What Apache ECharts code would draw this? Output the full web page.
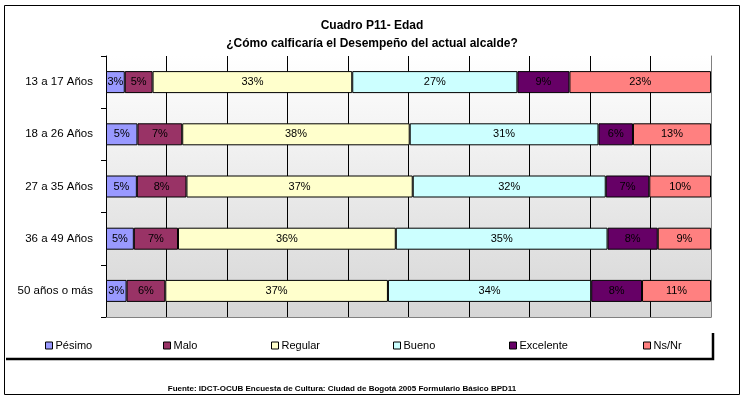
<!DOCTYPE html>
<html>
<head>
<meta charset="utf-8">
<script src="https://cdn.jsdelivr.net/npm/echarts@6/dist/echarts.min.js"></script>
<style>
  html, body { margin: 0; padding: 0; background: #fff; }
  #main { width: 744px; height: 399px; }
</style>
</head>
<body>
<div id="main"></div>
<script>
// categories, top to bottom
var grupos = ['13 a 17 Años', '18 a 26 Años', '27 a 35 Años', '36 a 49 Años', '50 años o más'];
var nombres = ['Pésimo', 'Malo', 'Regular', 'Bueno', 'Excelente', 'Ns/Nr'];
var colores = ['#9999FF', '#993366', '#FFFFCC', '#CCFFFF', '#660066', '#FF8080'];
// percent values per rating (one value per age group)
var pesimo    = [3.1, 5.2, 5.1, 4.6, 3.4];
var malo      = [4.6, 7.4, 8.2, 7.3, 6.4];
var regular   = [33.0, 37.6, 37.4, 36.0, 36.8];
var bueno     = [27.3, 31.2, 31.9, 35.0, 33.6];
var excelente = [8.6, 5.7, 7.2, 8.3, 8.4];
var nsnr      = [23.4, 12.9, 10.2, 8.8, 11.4];
var valores = [pesimo, malo, regular, bueno, excelente, nsnr];
var ticksX = [0, 10, 20, 30, 40, 50, 60, 70, 80, 90, 100];

var fuente = 'Liberation Sans, Arial, sans-serif';
var chart = echarts.init(document.getElementById('main'));

var series = nombres.map(function (n, i) {
    return {
        name: n,
        type: 'bar',
        stack: 'total',
        barWidth: 22,
        data: valores[i],
        itemStyle: { color: colores[i], borderColor: '#000', borderWidth: 1 },
        label: {
            show: true,
            position: 'inside',
            color: '#000',
            fontFamily: fuente,
            fontSize: 11,
            formatter: function (p) { return Math.round(p.value) + '%'; }
        },
        emphasis: { disabled: true }
    };
});

var legendLeft = [40, 158, 266, 388, 504, 638];
var legends = nombres.map(function (n, i) {
    return {
        data: [n],
        left: legendLeft[i],
        top: 335,
        icon: 'rect',
        itemWidth: 7,
        itemHeight: 7,
        itemGap: 4,
        itemStyle: { borderColor: '#000', borderWidth: 1 },
        textStyle: { color: '#000', fontFamily: fuente, fontSize: 11, padding: [0, 0, 0, -2] },
        selectedMode: false
    };
});

chart.setOption({
    animation: false,
    title: [{
        text: 'Cuadro P11- Edad',
        left: 'center',
        top: 15,
        textStyle: { fontFamily: fuente, fontSize: 12, fontWeight: 'bold', color: '#000' }
    }, {
        text: '¿Cómo calficaría el Desempeño del actual alcalde?',
        left: 'center',
        top: 33,
        textStyle: { fontFamily: fuente, fontSize: 12, fontWeight: 'bold', color: '#000' }
    }, {
        text: 'Fuente: IDCT-OCUB Encuesta de Cultura: Ciudad de Bogotá 2005 Formulario Básico BPD11',
        left: 337,
        textAlign: 'center',
        top: 380,
        textStyle: { fontFamily: fuente, fontSize: 8, fontWeight: 'bold', color: '#000' }
    }],
    legend: legends,
    grid: {
        left: 106,
        right: 33,
        top: 56,
        bottom: 82,
        show: true,
        borderWidth: 0,
        backgroundColor: new echarts.graphic.LinearGradient(0, 0, 0, 1, [
            { offset: 0, color: '#ffffff' },
            { offset: 1, color: '#d6d6d6' }
        ])
    },
    xAxis: {
        type: 'value',
        min: ticksX[0],
        max: ticksX[ticksX.length - 1],
        interval: 10,
        axisLabel: { show: false },
        axisTick: { show: false },
        axisLine: { show: true, lineStyle: { color: '#808080', width: 1 } },
        splitLine: { show: true, showMaxLine: false, lineStyle: { color: '#000', width: 1 } }
    },
    yAxis: [{
        type: 'category',
        data: grupos,
        inverse: true,
        axisLine: { show: true, lineStyle: { color: '#000', width: 1 } },
        axisTick: { show: true, length: 5, lineStyle: { color: '#000' } },
        axisLabel: { color: '#000', fontFamily: fuente, fontSize: 11.5, margin: 13 },
        splitLine: { show: false }
    }, {
        type: 'category',
        data: grupos,
        inverse: true,
        position: 'right',
        axisLine: { show: true, lineStyle: { color: '#808080', width: 1 } },
        axisTick: { show: false },
        axisLabel: { show: false }
    }],
    graphic: [{
        type: 'rect',
        shape: { x: 4.5, y: 5.5, width: 735, height: 389 },
        style: { fill: 'none', stroke: '#000', lineWidth: 1 },
        z: -1
    }, {
        type: 'polyline',
        shape: { points: [[6, 359], [713, 359], [713, 333]] },
        style: { fill: 'none', stroke: '#000', lineWidth: 2.5 }
    }],
    series: series
});
</script>
</body>
</html>
